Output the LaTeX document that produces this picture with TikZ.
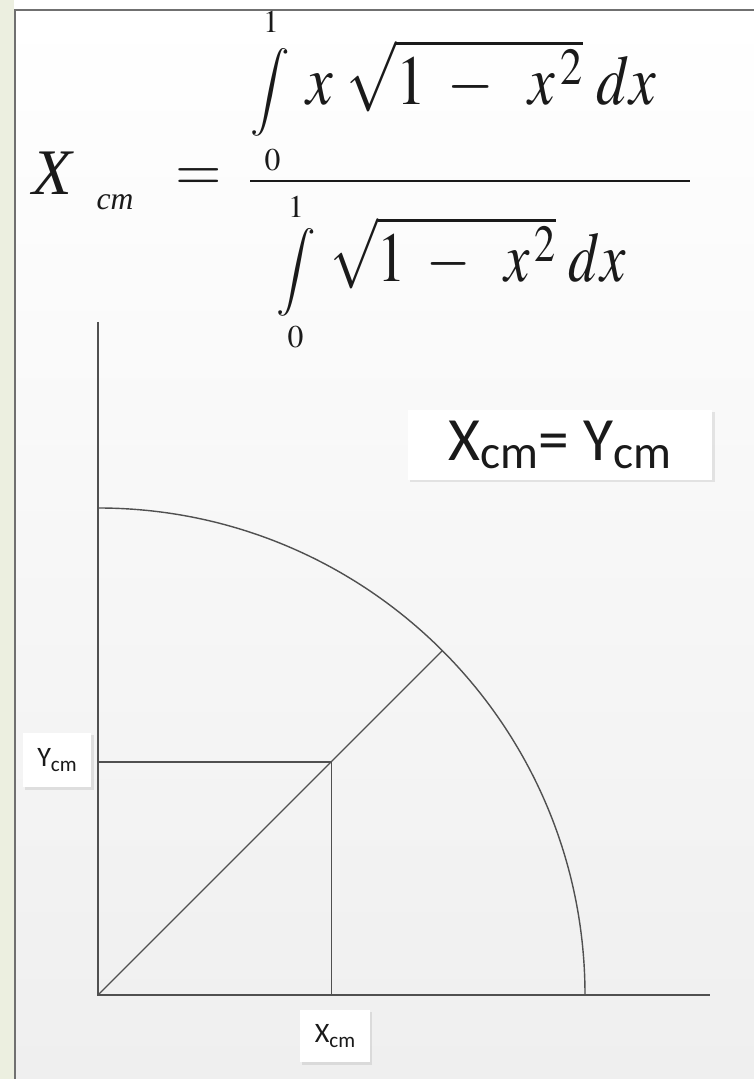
\documentclass[tikz,border=0pt]{standalone}
\usepackage{mathptmx}
\usepackage[no-math]{fontspec}
\setsansfont{Carlito}
\newfontfamily\formfont{Liberation Serif}
\usetikzlibrary{shadows}
\definecolor{stripgreen}{HTML}{ECEFE0}
\definecolor{framegray}{HTML}{707070}
\definecolor{linegray}{HTML}{505050}
\definecolor{inkblack}{HTML}{1A1A1A}
\definecolor{panelgray}{HTML}{EFEFEF}
\newcommand{\cmsub}[2]{\raisebox{-#1}{\fontsize{#2}{#2}\selectfont cm}}

\begin{document}
\begin{tikzpicture}[x=0.02cm, y=0.02cm,
  every node/.style={text=inkblack},
  mathbit/.style={inner sep=0pt, font=\fontsize{#1}{#1}\selectfont},
  labelbox/.style={fill=white, inner sep=0pt, font=\sffamily,
    drop shadow={shadow xshift=1.2pt, shadow yshift=-1.2pt, opacity=0.18}},
  axisline/.style={draw=linegray, line width=1.1pt},
  thinline/.style={draw=linegray, line width=0.8pt}]
  % page and frame
  \useasboundingbox (0,0) rectangle (754,1079);
  \fill[stripgreen] (0,0) rectangle (14,1079);
  \fill[white] (14,1069) rectangle (754,1079);
  \shade[top color=white, bottom color=panelgray] (14,0) rectangle (754,1069);
  \draw[framegray, line width=1.2pt] (15,0) -- (15,1069) -- (754,1069);

  % formula
  \node[inner sep=0pt, anchor=base, font=\formfont\itshape\fontsize{37}{37}\selectfont] (xbig) at (52,884) {X};
  \node[inner sep=0pt, anchor=base, font=\formfont\itshape\fontsize{18}{18}\selectfont] (xsub) at (115,869) {cm};
  \node[mathbit=34] (eqsign) at (199,899) {$=$};
  \node[mathbit=25] (nint) at (270.5,987) {$\displaystyle\int$};
  \node[mathbit=18] (nup) at (271,1057) {$1$};
  \node[mathbit=18] (nlow) at (272.5,919) {$0$};
  \node[mathbit=40, anchor=base west] (nbody) at (306,974)
    {\scalebox{0.85}[1]{$x\;\sqrt{1\;-\;\;x^{\,2}}\,\,dx$}};
  \node[mathbit=25] (dint) at (296.5,807) {$\displaystyle\int$};
  \node[mathbit=18] (dup) at (296,872) {$1$};
  \node[mathbit=18] (dlow) at (295.5,742) {$0$};
  \node[mathbit=40, anchor=base west] (dbody) at (330,797)
    {\scalebox{0.81}[1]{$\sqrt{1\;-\;\;x^{\,2}}\,\,dx$}};
  \coordinate (barl) at (250,898);
  \coordinate (barr) at (690,898);
  \draw[inkblack, line width=1.2pt] (barl) -- (barr);

  % quarter circle
  \coordinate (origin) at (98,84);
  \coordinate (ytop) at (98,757);
  \coordinate (xend) at (710,84);
  \coordinate (arcstart) at (98,571);
  \coordinate (arcmid) at (442.4,428.4);
  \coordinate (cmpt) at (331.5,317);
  \draw[axisline] (ytop) -- (origin) -- (xend);
  \draw[thinline] (arcstart) arc[start angle=90, end angle=0, radius=487];
  \draw[thinline] (origin) -- (arcmid);
  \draw[axisline] (origin |- cmpt) -- (cmpt) -- (cmpt |- origin);

  % labels
  \node[labelbox, minimum width=1.38cm, minimum height=1.1cm] (ylab) at (57,319)
    {\fontsize{16}{16}\selectfont Y\cmsub{3pt}{12}};
  \node[labelbox, minimum width=1.4cm, minimum height=1.06cm] (xlab) at (335,43)
    {\fontsize{16}{16}\selectfont X\cmsub{3pt}{12}};
  \node[labelbox, minimum width=6.1cm, minimum height=1.4cm] (eqbox) at (560,634)
    {\fontsize{35}{35}\selectfont X\cmsub{4.5pt}{27}= Y\cmsub{4.5pt}{27}};
\end{tikzpicture}
\end{document}
